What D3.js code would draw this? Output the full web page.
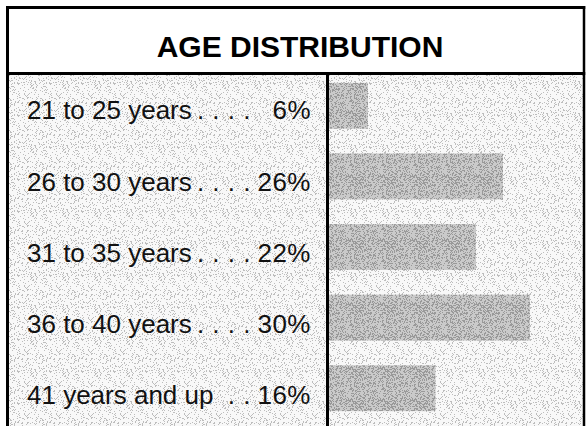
<!DOCTYPE html>
<html><head><meta charset="utf-8">
<script src="https://cdn.jsdelivr.net/npm/d3@7"></script>
<style>html,body{margin:0;padding:0;background:#fff}svg{display:block}</style>
</head><body><svg id="c" width="586" height="426"></svg>
<script>
const title = "AGE DISTRIBUTION";
const categories = ["21 to 25 years", "26 to 30 years", "31 to 35 years", "36 to 40 years", "41 years and up"];
const leaders = [". . . .", ". . . .", ". . . .", ". . . .", ". ."];
const values = [6, 26, 22, 30, 16];

const svg = d3.select("#c");
const W = 586, H = 426;
const frameL = 7.5, frameR = 584, frameT = 7.5, titleB = 73.5, divX = 327.5;

// stipple pattern (printed halftone look)
const defs = svg.append("defs");
function stipple(id, base, dot, density, seed) {
  const p = defs.append("pattern").attr("id", id).attr("width", 32).attr("height", 32).attr("patternUnits", "userSpaceOnUse");
  p.append("rect").attr("width", 32).attr("height", 32).attr("fill", base);
  let s = seed;
  const rnd = () => { s = (s * 9301 + 49297) % 233280; return s / 233280; };
  for (let i = 0; i < 32; i++) for (let j = 0; j < 32; j++) {
    if (rnd() < density) p.append("rect").attr("x", i).attr("y", j).attr("width", 1).attr("height", 1).attr("fill", dot);
  }
}
stipple("bgPat", "#f8f8f8", "#bdbdbd", 0.14, 7);
stipple("barPat", "#cacaca", "#999999", 0.38, 13);

// content background
svg.append("rect").attr("x", frameL).attr("y", titleB).attr("width", frameR - frameL).attr("height", H - titleB).attr("fill", "url(#bgPat)");

const x = d3.scaleLinear().domain([0, 30]).range([divX, 530]);
const y = d3.scaleBand().domain(categories).range([70.5, 423.5]).paddingInner(0.35).paddingOuter(0.175);

svg.append("g").selectAll("rect").data(values).join("rect")
  .attr("x", x(0))
  .attr("y", (d, i) => y(categories[i]))
  .attr("width", d => x(d) - x(0))
  .attr("height", y.bandwidth())
  .attr("fill", "url(#barPat)");

// title box
svg.append("rect").attr("x", frameL).attr("y", frameT).attr("width", frameR - frameL).attr("height", titleB - frameT).attr("fill", "#fff");
svg.append("text").attr("x", 300).attr("y", 57).attr("text-anchor", "middle")
  .attr("font-family", "Liberation Sans, Arial, Helvetica, sans-serif").attr("font-weight", "bold").attr("font-size", 30)
  .attr("fill", "#000").text(title);

// frame lines
const line = (x1, y1, x2, y2, w) => svg.append("line").attr("x1", x1).attr("y1", y1).attr("x2", x2).attr("y2", y2).attr("stroke", "#000").attr("stroke-width", w);
line(frameL, frameT - 1.5, frameL, H, 3);
line(frameR, frameT - 1.5, frameR, H, 2.5);
line(frameL - 1.5, frameT, frameR + 1.25, frameT, 3);
line(frameL - 1.5, titleB, frameR + 1.25, titleB, 3);
line(divX, titleB, divX, H, 3);

// labels
const font = "Liberation Sans, Arial, Helvetica, sans-serif";
const rows = svg.append("g").attr("font-family", font).attr("font-size", 26).attr("fill", "#111");
categories.forEach((c, i) => {
  const by = y(c) + y.bandwidth() / 2 + 13.5 + i * 0.6;
  rows.append("text").attr("x", 27).attr("y", by).text(c);
  rows.append("text").attr("x", 251).attr("y", by).attr("text-anchor", "end").attr("letter-spacing", 0.5).text(leaders[i]);
  rows.append("text").attr("x", 311).attr("y", by).attr("text-anchor", "end").attr("letter-spacing", 0.5).text(values[i] + "%");
});
</script></body></html>
